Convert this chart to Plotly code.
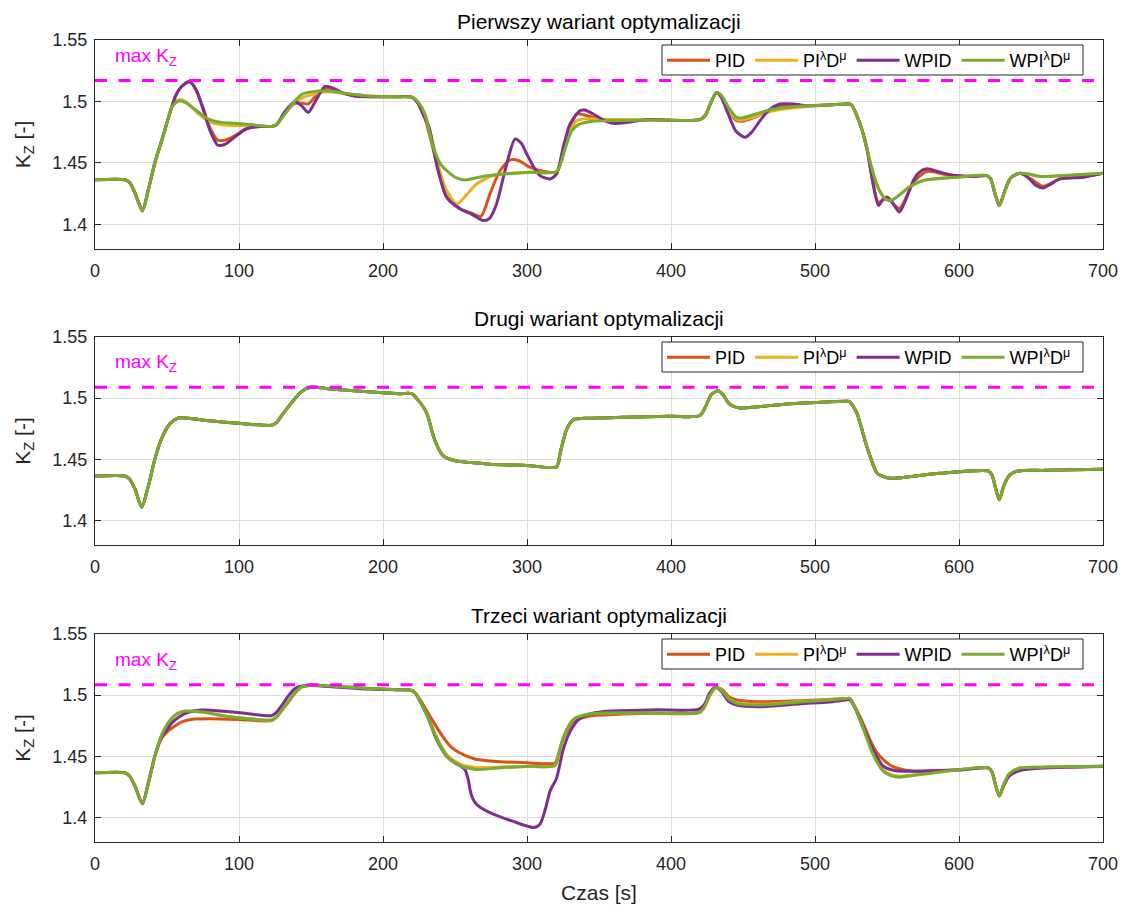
import plotly.graph_objects as go

# ---------------- data (time [s], K_Z [-]) ----------------
START_P1 = [(0, 1.4363), (21, 1.4363), (24, 1.434), (28, 1.425), (32.9, 1.411), (37, 1.428),
            (42, 1.452), (46.3, 1.468), (50, 1.483), (53.2, 1.495)]

P1_WPILD = START_P1 + [
    (56, 1.499), (59, 1.5006), (63, 1.499), (70, 1.493), (78.7, 1.4857), (88, 1.483), (97, 1.4822),
    (110, 1.481), (122.6, 1.4797), (126, 1.481), (132, 1.49), (138.9, 1.5006), (144, 1.506),
    (150, 1.5078), (162, 1.5087), (175, 1.5065), (190, 1.5045), (208, 1.5038), (220, 1.5035),
    (224, 1.500), (229, 1.49), (234.9, 1.4627), (240, 1.449), (244.2, 1.4438), (250, 1.4385),
    (257, 1.4362), (265, 1.438), (274, 1.4397), (290, 1.4415), (302, 1.4424), (320.6, 1.443),
    (324, 1.452), (327.5, 1.4654), (331, 1.476), (336.8, 1.4817), (345, 1.4838), (360, 1.4845),
    (390, 1.485), (420, 1.4852), (424, 1.489), (428, 1.500), (431.7, 1.5073), (435, 1.505),
    (440, 1.495), (445.6, 1.487), (450, 1.4868), (471, 1.4938), (494.2, 1.4965), (510, 1.4972),
    (522, 1.4979), (525, 1.4975), (531.3, 1.4817), (536, 1.462), (540.5, 1.4411), (545, 1.427),
    (549.8, 1.42), (553, 1.4195), (556.7, 1.4222), (565, 1.43), (575.2, 1.4357), (598.4, 1.4384),
    (619.2, 1.4397), (622, 1.437), (625, 1.425), (628, 1.4154), (632, 1.428), (636, 1.438),
    (642.4, 1.4416), (648, 1.441), (656.3, 1.439), (670, 1.4395), (685, 1.4405), (700, 1.4416)]

P1_PILD = START_P1 + [
    (56, 1.500), (59, 1.5015), (63, 1.500), (70, 1.492), (78.7, 1.484), (88, 1.481), (97, 1.4805),
    (110, 1.4805), (122.6, 1.4797), (126, 1.481), (132, 1.4905), (138.9, 1.4995), (144, 1.503),
    (150, 1.5055), (162, 1.508), (175, 1.506), (190, 1.5045), (208, 1.5038), (220, 1.5035),
    (224, 1.500), (229, 1.49), (234.9, 1.465), (240, 1.441), (244, 1.428), (251.2, 1.4168),
    (258, 1.424), (265, 1.433), (276.5, 1.4397), (290, 1.4418), (302, 1.4424), (320.6, 1.443),
    (324, 1.455), (328, 1.472), (334.5, 1.4843), (341, 1.486), (350, 1.4855), (390, 1.485),
    (420, 1.4852), (424, 1.489), (428, 1.500), (431.7, 1.5073), (435, 1.504), (440, 1.493),
    (445.6, 1.4856), (450, 1.485), (471, 1.4925), (494, 1.496), (510, 1.4972), (522, 1.4979),
    (525, 1.4975), (531.3, 1.4817), (536, 1.462), (540.5, 1.4411), (545, 1.427), (549.8, 1.42),
    (553, 1.4195), (556.7, 1.4222), (565, 1.43), (575.2, 1.4357), (598.4, 1.4384), (619.2, 1.4397),
    (622, 1.437), (625, 1.425), (628, 1.4154), (632, 1.428), (636, 1.438), (642.4, 1.4416),
    (648, 1.441), (656.3, 1.439), (670, 1.4395), (685, 1.4405), (700, 1.4416)]

P1_PID = START_P1 + [
    (56, 1.5045), (60, 1.512), (65.5, 1.516), (70, 1.510), (75, 1.495), (80, 1.478), (85.1, 1.4687),
    (90, 1.4685), (97, 1.472), (104.7, 1.4776), (112, 1.4795), (122.6, 1.4797), (126, 1.481),
    (132, 1.4905), (138.9, 1.4985), (144, 1.4985), (148.1, 1.498), (153, 1.504), (159.7, 1.510),
    (166, 1.5085), (180.6, 1.5045), (208, 1.5038), (220, 1.5035), (224, 1.499), (229, 1.487),
    (234, 1.465), (240, 1.437), (244.2, 1.4222), (253.5, 1.4127), (262, 1.409), (268, 1.4065),
    (274.3, 1.4249), (281, 1.443), (288.2, 1.4525), (294, 1.452), (302, 1.4465), (310, 1.4435),
    (320.6, 1.4425), (324, 1.452), (328, 1.47), (334.5, 1.4898), (340, 1.489), (346, 1.487),
    (355, 1.485), (390, 1.485), (420, 1.4852), (424, 1.489), (428, 1.500), (431.7, 1.5073),
    (435, 1.504), (440, 1.492), (445.6, 1.4845), (450, 1.484), (460, 1.488), (471, 1.4945),
    (485, 1.497), (494, 1.4965), (510, 1.4972), (522, 1.4979), (525, 1.4975), (531.3, 1.4817),
    (536, 1.462), (540, 1.436), (544, 1.418), (549.8, 1.4215), (558.6, 1.413), (568.3, 1.434),
    (577.5, 1.443), (591.4, 1.4405), (610, 1.439), (619.2, 1.4397), (622, 1.437), (625, 1.425),
    (628, 1.4154), (632, 1.428), (636, 1.438), (642.4, 1.4416), (650, 1.437), (658.6, 1.431),
    (670.1, 1.437), (686.3, 1.4388), (700, 1.4416)]

P1_WPID = START_P1 + [
    (56, 1.5045), (60, 1.512), (65.5, 1.5162), (70, 1.510), (75, 1.494), (80, 1.476), (85.1, 1.4646),
    (90, 1.465), (97, 1.471), (104.7, 1.4776), (112, 1.4795), (122.6, 1.4797), (126, 1.481),
    (132, 1.492), (138.9, 1.4998), (143, 1.497), (148.1, 1.4911), (153, 1.500), (159.7, 1.5122),
    (166, 1.5105), (172, 1.507), (180.6, 1.5045), (208, 1.5038), (220, 1.5035), (224, 1.499),
    (228, 1.489), (232, 1.4789), (238, 1.445), (244.2, 1.4222), (253.5, 1.4127), (262, 1.408),
    (269.7, 1.4032), (274, 1.405), (278.9, 1.4168), (285, 1.445), (291.7, 1.4695), (296, 1.466),
    (299.8, 1.4573), (305, 1.446), (309, 1.4397), (316, 1.437), (320.6, 1.4411), (325, 1.462),
    (329.9, 1.4817), (336.8, 1.4925), (340, 1.493), (346, 1.4898), (353, 1.485), (359.9, 1.4822),
    (370, 1.483), (382, 1.4852), (420, 1.4852), (424, 1.489), (428, 1.500), (431.7, 1.5073),
    (435, 1.503), (440, 1.489), (445, 1.476), (451.4, 1.4708), (456, 1.475), (461.8, 1.4843),
    (468, 1.493), (475.7, 1.4979), (485, 1.498), (494.2, 1.4965), (510, 1.4972), (522, 1.4979),
    (525, 1.4975), (531.3, 1.4817), (536, 1.462), (540, 1.435), (544, 1.4154), (547, 1.420),
    (549.8, 1.4222), (553, 1.419), (558.6, 1.41), (563, 1.42), (568.3, 1.4357), (572, 1.442),
    (577.5, 1.4452), (584, 1.4435), (591.4, 1.4411), (600, 1.4395), (610, 1.439), (619.2, 1.4397),
    (622, 1.437), (625, 1.425), (628, 1.4154), (632, 1.428), (636, 1.438), (642.4, 1.4416),
    (648, 1.438), (653, 1.432), (658.6, 1.4297), (664, 1.433), (670.1, 1.437), (686.3, 1.4384),
    (700, 1.4416)]

# panel 2: all four controllers practically identical
P2_ALL = [
    (0, 1.4364), (20.8, 1.4364), (24, 1.434), (28, 1.425), (32.4, 1.4107), (37, 1.428), (42, 1.452),
    (47, 1.469), (52, 1.479), (57.9, 1.4839), (65, 1.4835), (80, 1.4815), (100, 1.4795),
    (122.7, 1.4779), (126, 1.48), (131, 1.488), (137, 1.497), (143, 1.505), (149.3, 1.509),
    (160, 1.508), (180, 1.506), (200, 1.5045), (211.8, 1.5036), (219.9, 1.5037), (224, 1.499),
    (230.3, 1.488), (235, 1.469), (238, 1.46), (242, 1.4527), (246, 1.4503), (251.2, 1.4486),
    (260, 1.4475), (274.3, 1.446), (300, 1.445), (320.6, 1.444), (323, 1.455), (327.5, 1.4744),
    (332.2, 1.4825), (340, 1.4835), (366.9, 1.4844), (400, 1.4852), (420.1, 1.4858), (424, 1.493),
    (428, 1.503), (432.9, 1.5061), (436, 1.503), (440, 1.496), (443.3, 1.4934), (448, 1.492),
    (482.6, 1.4955), (522, 1.4974), (524, 1.4972), (529, 1.488), (535.9, 1.4608), (542.8, 1.4392),
    (547, 1.436), (552, 1.4346), (560, 1.435), (586.8, 1.4386), (620.4, 1.4405), (623, 1.437),
    (625.5, 1.426), (628, 1.4169), (631, 1.428), (635, 1.437), (641.2, 1.4405), (660, 1.441),
    (700, 1.4419)]

START_P3 = [(0, 1.4365), (21, 1.4365), (24, 1.434), (28, 1.425), (32.9, 1.4113), (37, 1.428),
            (42, 1.452)]

P3_WPILD = START_P3 + [
    (46.3, 1.4676), (50, 1.476), (53.2, 1.4811), (57, 1.485), (62.5, 1.487), (70, 1.4868),
    (76.4, 1.486), (90, 1.483), (105, 1.481), (122.7, 1.4797), (126, 1.482), (130, 1.488),
    (134.3, 1.4946), (139, 1.502), (143.5, 1.5068), (148, 1.508), (152.7, 1.5082), (170, 1.507),
    (190, 1.5055), (210, 1.5045), (219.9, 1.504), (223, 1.501), (227, 1.492), (231.5, 1.4811),
    (236, 1.468), (240.7, 1.4568), (245, 1.449), (250, 1.4446), (255, 1.4415), (261.6, 1.44),
    (265, 1.4392), (280, 1.4405), (300, 1.4418), (319.4, 1.4424), (322, 1.452), (325.2, 1.4649),
    (329, 1.475), (333.3, 1.4811), (340, 1.4838), (346, 1.4851), (380, 1.4856), (420, 1.486),
    (423, 1.49), (427, 1.50), (431, 1.5066), (435, 1.504), (440, 1.497), (445.6, 1.4933),
    (461.8, 1.4919), (490, 1.4945), (510, 1.496), (522, 1.4973), (524.3, 1.4973), (528, 1.489),
    (533.5, 1.473), (540.5, 1.4513), (547.4, 1.4379), (553, 1.434), (559, 1.433), (568, 1.4343),
    (577.5, 1.4357), (600.7, 1.4392), (620.4, 1.4405), (623, 1.437), (625.5, 1.426), (628, 1.4176),
    (631, 1.427), (635, 1.436), (642.4, 1.4405), (660, 1.4412), (700, 1.4419)]

P3_PILD = START_P3 + [
    (46.3, 1.4672), (50, 1.4755), (53.2, 1.4806), (57, 1.4845), (62.5, 1.4865), (70, 1.4865),
    (76.4, 1.4858), (90, 1.483), (105, 1.481), (122.7, 1.4797), (126, 1.482), (130, 1.488),
    (134.3, 1.4946), (139, 1.502), (143.5, 1.5068), (148, 1.508), (152.7, 1.5082), (170, 1.507),
    (190, 1.5055), (210, 1.5045), (219.9, 1.504), (223, 1.501), (227, 1.492), (231.5, 1.4815),
    (236, 1.469), (240.7, 1.458), (245, 1.4505), (250, 1.446), (255, 1.443), (261.6, 1.4415),
    (265, 1.441), (280, 1.4412), (300, 1.442), (319.4, 1.4425), (322, 1.452), (325.2, 1.4649),
    (329, 1.475), (333.3, 1.4811), (340, 1.4838), (346, 1.4851), (380, 1.4856), (420, 1.486),
    (423, 1.49), (427, 1.50), (431, 1.5066), (435, 1.504), (440, 1.4975), (445.6, 1.4938),
    (461.8, 1.4925), (490, 1.4948), (510, 1.4962), (522, 1.4973), (524.3, 1.4973), (528, 1.489),
    (533.5, 1.473), (540.5, 1.4515), (547.4, 1.4385), (553, 1.435), (559, 1.4338), (568, 1.4348),
    (577.5, 1.436), (600.7, 1.4392), (620.4, 1.4405), (623, 1.437), (625.5, 1.426), (628, 1.4176),
    (631, 1.427), (635, 1.436), (642.4, 1.4405), (660, 1.4412), (700, 1.4419)]

P3_PID = START_P3 + [
    (46.3, 1.465), (50, 1.470), (53.2, 1.473), (60, 1.478), (69.4, 1.4805), (80, 1.4808),
    (100, 1.4802), (122.7, 1.4792), (126, 1.482), (130, 1.488), (134.3, 1.4946), (139, 1.502),
    (143.5, 1.5068), (148, 1.508), (152.7, 1.5082), (170, 1.507), (190, 1.5055), (210, 1.5045),
    (219.9, 1.504), (223, 1.501), (228, 1.492), (234, 1.48), (240.7, 1.4676), (247, 1.458),
    (253.5, 1.4527), (263.2, 1.4481), (276.6, 1.446), (300, 1.4448), (319.4, 1.4446), (322, 1.452),
    (325.2, 1.4649), (332.2, 1.4784), (340, 1.482), (346, 1.4833), (380, 1.485), (420, 1.486),
    (423, 1.49), (427, 1.50), (431, 1.506), (435, 1.505), (440, 1.499), (445.6, 1.496),
    (461.8, 1.4946), (490, 1.4955), (522, 1.4973), (524.3, 1.4973), (528, 1.490), (533, 1.478),
    (538.2, 1.4635), (543, 1.453), (547.4, 1.4473), (552, 1.443), (556.7, 1.4405), (568.3, 1.4379),
    (580, 1.4382), (600.7, 1.4392), (620.4, 1.4405), (623, 1.437), (625.5, 1.426), (628, 1.4176),
    (631, 1.426), (635, 1.435), (642.4, 1.4398), (660, 1.4408), (700, 1.4418)]

P3_WPID = START_P3 + [
    (46.3, 1.466), (50, 1.472), (53.2, 1.477), (58, 1.482), (64.8, 1.486), (74.1, 1.4878),
    (90, 1.4868), (105, 1.485), (122.7, 1.4833), (126, 1.486), (130, 1.492), (134, 1.499),
    (138.9, 1.5054), (143.5, 1.5075), (150, 1.508), (170, 1.5065), (190, 1.505), (210, 1.5045),
    (219.9, 1.504), (223, 1.501), (227, 1.492), (231.5, 1.4811), (236, 1.467), (240.7, 1.456),
    (245, 1.449), (250, 1.4446), (254, 1.442), (256.9, 1.4392), (259, 1.432), (261, 1.42),
    (263.2, 1.4135), (265, 1.4108), (270, 1.4065), (276.6, 1.4027), (290, 1.397), (304.4, 1.3919),
    (309, 1.3946), (313, 1.408), (316, 1.4216), (320.6, 1.4324), (325, 1.455), (329.9, 1.4703),
    (336.8, 1.4811), (345, 1.485), (357.6, 1.487), (390, 1.488), (419, 1.4884), (423, 1.492),
    (427, 1.502), (431, 1.5068), (435, 1.503), (440, 1.495), (445.6, 1.4919), (461.8, 1.4906),
    (490, 1.493), (510, 1.4945), (520, 1.4959), (524.3, 1.4962), (528, 1.489), (533.5, 1.474),
    (540.5, 1.455), (547.4, 1.4419), (555, 1.4385), (563, 1.4379), (577.5, 1.438), (600.7, 1.4388),
    (620.4, 1.4405), (623, 1.437), (625.5, 1.426), (628, 1.4176), (631, 1.426), (635, 1.434),
    (642.4, 1.4384), (660, 1.4405), (700, 1.4419)]

MAX_KZ = [1.517, 1.509, 1.5085]
PANEL_TITLES = ["Pierwszy wariant optymalizacji", "Drugi wariant optymalizacji",
                "Trzeci wariant optymalizacji"]
SERIES_NAMES = ["PID", "PI<sup>λ</sup>D<sup>μ</sup>", "WPID", "WPI<sup>λ</sup>D<sup>μ</sup>"]
SERIES_COLORS = ["#D95319", "#EDB120", "#7E2F8E", "#77AC30"]
PANELS = [
    [P1_PID, P1_PILD, P1_WPID, P1_WPILD],
    [P2_ALL, P2_ALL, P2_ALL, P2_ALL],
    [P3_PID, P3_PILD, P3_WPID, P3_WPILD],
]
X_TICKS = [0, 100, 200, 300, 400, 500, 600, 700]
Y_TICKS = [1.4, 1.45, 1.5, 1.55]
Y_TICK_TEXT = ["1.4", "1.45", "1.5", "1.55"]

# ---------------- figure ----------------
FONT = "Liberation Sans, Arial, sans-serif"
TXT = "#262626"
W, H = 1126, 908
OFF = 8  # page body margin of the html page
# plot areas in screen pixels (left, right, top, bottom)
PX_L, PX_R = 95, 1103
panel_px = [(40, 249), (337, 545), (634, 842)]
LEG_L, LEG_R, LEG_DY, LEG_H = 662, 1083, 5, 30   # legend box (screen px)
ML = PX_L - OFF
MR = W - (PX_R - OFF)
MT = panel_px[0][0] - OFF
MB = H - (panel_px[2][1] - OFF)
plot_h = H - MT - MB
plot_w = W - ML - MR
domains = [[1 - (b - OFF - MT) / plot_h, 1 - (t - OFF - MT) / plot_h] for t, b in panel_px]


def px_to_paper_y(py):
    return 1 - (py - OFF - MT) / plot_h


def px_to_paper_x(px):
    return (px - PX_L) / plot_w


fig = go.Figure()
for i, series in enumerate(PANELS):
    xa = "x" if i == 0 else f"x{i+1}"
    ya = "y" if i == 0 else f"y{i+1}"
    lg = "legend" if i == 0 else f"legend{i+1}"
    for name, color, pts in zip(SERIES_NAMES, SERIES_COLORS, series):
        fig.add_trace(go.Scatter(
            x=[p[0] for p in pts], y=[p[1] for p in pts], mode="lines", name=name,
            line=dict(color=color, width=3, shape="spline", smoothing=0.7),
            xaxis=xa, yaxis=ya, legend=lg, showlegend=True))

axis_common = dict(showgrid=True, gridcolor="#dedede", gridwidth=1, zeroline=False,
                   showline=True, linecolor=TXT, linewidth=1, mirror="ticks",
                   ticks="inside", ticklen=6, tickcolor=TXT, automargin=False,
                   tickfont=dict(family=FONT, size=18, color=TXT))

layout = dict(width=W, height=H, paper_bgcolor="white", plot_bgcolor="white",
              margin=dict(l=ML, r=MR, t=MT, b=MB, autoexpand=False),
              font=dict(family=FONT, color=TXT), annotations=[], shapes=[])

for i in range(3):
    sfx = "" if i == 0 else str(i + 1)
    layout[f"xaxis{sfx}"] = dict(axis_common, domain=[0, 1], range=[0, 700], tickvals=X_TICKS,
                                  anchor=f"y{sfx}", ticklabelstandoff=5)
    layout[f"yaxis{sfx}"] = dict(axis_common, domain=domains[i], range=[1.38, 1.55],
                                  tickvals=Y_TICKS, ticktext=Y_TICK_TEXT, anchor=f"x{sfx}",
                                  ticklabelstandoff=3,
                                  title=dict(text="K<sub>Z</sub> [-]", standoff=16,
                                             font=dict(family=FONT, size=21, color=TXT)))
    top_px = panel_px[i][0]
    box_top = top_px + LEG_DY
    layout["shapes"].append(dict(type="line", xref=f"x{sfx} domain", x0=0, x1=1,
                                 yref=f"y{sfx}", y0=MAX_KZ[i], y1=MAX_KZ[i],
                                 line=dict(color="#FF00FF", width=3, dash="12px,11.5px")))
    # legend box (white, framed) drawn as a shape; legend entries on top of it
    layout["shapes"].append(dict(type="rect", xref="paper", yref="paper", layer="above",
                                 x0=px_to_paper_x(LEG_L), x1=px_to_paper_x(LEG_R),
                                 y0=px_to_paper_y(box_top + LEG_H), y1=px_to_paper_y(box_top),
                                 fillcolor="white", line=dict(color=TXT, width=1)))
    layout["legend" if i == 0 else f"legend{i+1}"] = dict(
        orientation="h", x=px_to_paper_x(LEG_L), xanchor="left",
        y=px_to_paper_y(box_top - 3), yanchor="top",
        bgcolor="rgba(0,0,0,0)", borderwidth=0,
        font=dict(family=FONT, size=18, color="black"), itemwidth=43,
        tracegroupgap=0)
    layout["annotations"].append(dict(text="max K<sub>Z</sub>", xref=f"x{sfx} domain", x=0.018,
                                      xanchor="left", yref=f"y{sfx}", y=MAX_KZ[i] + 0.0195,
                                      yanchor="middle", showarrow=False,
                                      font=dict(family=FONT, size=19, color="#FF00FF")))
    layout["annotations"].append(dict(text=PANEL_TITLES[i], xref="x domain", x=0.5,
                                      xanchor="center", yref="paper", y=domains[i][1],
                                      yanchor="bottom", yshift=5, showarrow=False,
                                      font=dict(family=FONT, size=21, color="black")))

layout["xaxis3"]["title"] = dict(text="Czas [s]", standoff=12,
                                 font=dict(family=FONT, size=21, color=TXT))

fig.update_layout(**layout)
fig.write_html("out.html")
